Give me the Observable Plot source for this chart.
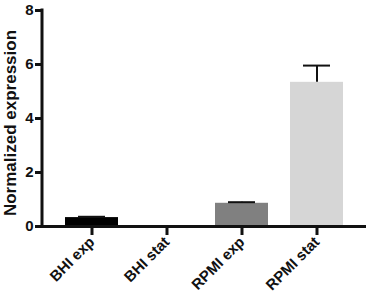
<!DOCTYPE html>
<html><head><meta charset="utf-8">
<script src="https://cdn.jsdelivr.net/npm/d3@7"></script>
<script src="https://cdn.jsdelivr.net/npm/@observablehq/plot@0.6"></script>
<style>body{margin:0;background:#fff;color:#111}</style>
</head><body><div id="chart"></div>
<script>
const categories = ["BHI exp", "BHI stat", "RPMI exp", "RPMI stat"];
const values = [0.33, 0.0, 0.86, 5.34];
const errors = [0.03, 0.0, 0.04, 0.62];
const colors = ["#000000", "#ffffff", "#808080", "#d6d6d6"];
const yTicks = [0, 2, 4, 6, 8];
const yDomain = [0, 8];

const data = categories.map((c, i) => ({cat: c, v: values[i], e: errors[i], top: values[i] + errors[i]}));
const withErr = data.filter(d => d.e > 0);
const ink = "#111111";

// layout
const W = 379, H = 305;
const axisX0 = 42, axisX1 = 366, axisYTop = 10, axisYBottom = 226;
const mL = 34, mR = W - axisX1, mT = 8, mB = 68;
const leftGap = axisX0 - mL;          // space inside the frame left of the y axis
const plotW = axisX1 - axisX0;

const chart = Plot.plot({
  width: W, height: H,
  marginLeft: mL, marginRight: mR, marginTop: mT, marginBottom: mB,
  style: {fontFamily: "Liberation Sans, Arial, sans-serif", fontWeight: "bold", fontSize: "15px", color: ink},
  x: {domain: categories, range: [axisX0, axisX1], paddingInner: 0.3, paddingOuter: 0.31, label: null},
  y: {domain: yDomain, range: [axisYBottom, axisYTop], ticks: yTicks, label: null},
  color: {domain: categories, range: colors},
  marks: [
    Plot.barY(data, {x: "cat", y: "v", fill: "cat"}),
    Plot.ruleX(withErr, {x: "cat", y1: "v", y2: "top", stroke: ink, strokeWidth: 2}),
    Plot.tickY(withErr, {x: "cat", y: "top", stroke: ink, strokeWidth: 2, inset: 13}),
    // y axis line
    Plot.rect([yDomain], {y1: d => d[0], y2: d => d[1], insetLeft: leftGap - 1.5, insetRight: plotW - 1.5, insetTop: -1.5, insetBottom: -1.5, fill: ink}),
    // y tick marks
    Plot.ruleY(yTicks, {stroke: ink, strokeWidth: 3, insetLeft: 1, insetRight: plotW}),
    // x baseline
    Plot.ruleY([0], {stroke: ink, strokeWidth: 3, insetLeft: leftGap - 1.5}),
    // x tick marks
    Plot.ruleX(categories, {x: d => d, y1: 0, y2: 0, insetBottom: -9, stroke: ink, strokeWidth: 3}),
    Plot.axisY({ticks: yTicks, tickSize: 0, tickPadding: 1, fill: ink, fontSize: 15, fontWeight: "bold", label: null}),
    Plot.axisY({ticks: [], tickSize: 0, fill: ink, fontSize: 17, fontWeight: "bold",
      label: "Normalized expression", labelAnchor: "center", labelArrow: "none", labelOffset: 31}),
    Plot.axisX({tickSize: 0, tickRotate: -45, tickPadding: 2, fill: ink, fontSize: 15, fontWeight: "bold", label: null})
  ]
});
document.getElementById("chart").appendChild(chart);
</script>
</body></html>
